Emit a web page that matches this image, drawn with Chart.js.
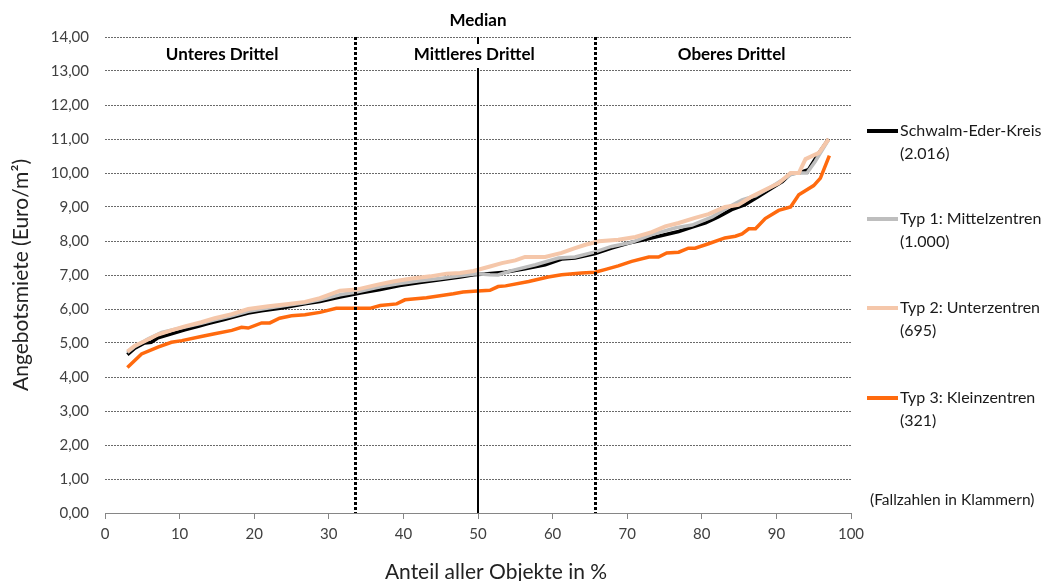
<!DOCTYPE html>
<html><head><meta charset="utf-8">
<script src="https://cdn.jsdelivr.net/npm/chart.js@4/dist/chart.umd.min.js"></script>
<style>html,body{margin:0;padding:0;background:#fff}canvas{display:block}</style>
</head><body>
<canvas id="c" width="1046" height="581"></canvas>
<script>
// ---- data ----
const seriesNames = ['Schwalm-Eder-Kreis', 'Typ 1: Mittelzentren', 'Typ 2: Unterzentren', 'Typ 3: Kleinzentren'];
const seriesCounts = ['(2.016)', '(1.000)', '(695)', '(321)'];

const blackX = [3, 4, 5.3, 6.2, 7.1, 8.9, 10.7, 12.5, 13.8, 16.1, 17.8, 19.2, 21, 23.7, 26.8, 28.8, 31.5, 34.2, 36.9, 39.5, 42.2, 44.9, 47.6, 49.4, 50.9, 53.6, 56.3, 59, 61.2, 63, 65.7, 67.9, 70.2, 72.4, 74.2, 76.9, 78.7, 80.5, 82.2, 84, 85.8, 87.6, 89.4, 90.8, 91.9, 93, 94.3, 95.7, 97];
const blackY = [4.66, 4.85, 5.0, 5.02, 5.15, 5.27, 5.39, 5.49, 5.57, 5.7, 5.8, 5.88, 5.95, 6.03, 6.15, 6.22, 6.35, 6.47, 6.57, 6.69, 6.78, 6.86, 6.94, 7.01, 7.03, 7.08, 7.18, 7.3, 7.47, 7.5, 7.63, 7.79, 7.94, 8.04, 8.14, 8.28, 8.41, 8.53, 8.71, 8.92, 9.07, 9.31, 9.56, 9.75, 9.98, 10.0, 10.1, 10.59, 11.0];

const greyX = [3, 4, 5.8, 7.6, 9, 10.7, 12.9, 14.7, 17, 19.2, 21.9, 24.6, 26.8, 28.8, 31.5, 33.7, 36.9, 39.5, 42.2, 44.9, 47.6, 49.8, 51.6, 52.7, 54.5, 57.7, 60.8, 63, 65.7, 67.9, 70.6, 73.3, 76.4, 78.7, 81.4, 83.6, 85.4, 87.2, 89.4, 91.2, 92.3, 94.1, 95.2, 97];
const greyY = [4.72, 4.9, 5.12, 5.31, 5.38, 5.47, 5.58, 5.68, 5.8, 5.93, 6.03, 6.12, 6.18, 6.27, 6.42, 6.5, 6.65, 6.75, 6.83, 6.9, 6.98, 7.04, 7.01, 7.0, 7.13, 7.3, 7.5, 7.53, 7.68, 7.84, 7.96, 8.19, 8.38, 8.47, 8.71, 9.0, 9.21, 9.33, 9.6, 9.85, 10.0, 10.0, 10.34, 10.98];

const beigeX = [3, 4, 5.3, 7.1, 8.9, 10.7, 12.9, 14.7, 17, 19.2, 21.9, 24.6, 26.8, 28.8, 31.5, 33.7, 36.4, 38.6, 40.9, 43.6, 45.8, 47.6, 49.4, 51.6, 53.2, 55, 56.3, 59, 61.2, 63, 64.4, 66.2, 68.8, 71.1, 73.3, 75.1, 76.9, 79.1, 80.9, 83.1, 84.9, 86.7, 88.5, 90.3, 91.9, 93, 93.9, 95.7, 97];
const beigeY = [4.75, 4.92, 5.05, 5.25, 5.37, 5.49, 5.61, 5.73, 5.85, 6.0, 6.08, 6.15, 6.21, 6.32, 6.54, 6.57, 6.71, 6.81, 6.89, 6.96, 7.04, 7.06, 7.12, 7.25, 7.35, 7.43, 7.53, 7.53, 7.65, 7.79, 7.89, 7.99, 8.04, 8.12, 8.26, 8.43, 8.53, 8.68, 8.79, 9.0, 9.06, 9.31, 9.51, 9.7, 10.0, 10.0, 10.41, 10.59, 11.0];

const orangeX = [3, 4.9, 7.1, 8.9, 10.3, 12.9, 14.7, 17, 18.3, 19.2, 21, 22.1, 23.4, 25, 26.8, 28.8, 31, 35.5, 36.9, 39.1, 40.2, 43.1, 44.9, 46.7, 48, 49.4, 51.6, 52.7, 53.7, 56.8, 59.4, 61.2, 63.9, 65.7, 67, 68.8, 70.6, 72.9, 74.2, 75.3, 76.9, 78.2, 79.1, 80.9, 83.1, 84.5, 85.4, 86.3, 87.2, 88.5, 90.3, 91.9, 93, 95, 95.9, 97.1];
const orangeY = [4.28, 4.68, 4.88, 5.02, 5.07, 5.19, 5.27, 5.37, 5.46, 5.44, 5.59, 5.59, 5.73, 5.8, 5.83, 5.9, 6.02, 6.02, 6.1, 6.15, 6.27, 6.33, 6.39, 6.45, 6.5, 6.52, 6.55, 6.66, 6.68, 6.81, 6.94, 7.01, 7.06, 7.08, 7.16, 7.27, 7.4, 7.53, 7.53, 7.65, 7.67, 7.79, 7.79, 7.92, 8.09, 8.14, 8.21, 8.36, 8.36, 8.66, 8.9, 9.0, 9.36, 9.63, 9.85, 10.51];

const yTickLabels = ['0,00','1,00','2,00','3,00','4,00','5,00','6,00','7,00','8,00','9,00','10,00','11,00','12,00','13,00','14,00'];
const xTickValues = [0,10,20,30,40,50,60,70,80,90,100];
const thirdLines = [33.5, 65.7];
const medianValue = 50;
const sectionLabels = ['Unteres Drittel', 'Mittleres Drittel', 'Oberes Drittel'];
const sectionCenters = [15.7, 49.5, 84];
const xTitle = 'Anteil aller Objekte in %';
const yTitle = 'Angebotsmiete (Euro/m²)';

// ---- build ----
const FONT = 'Lato';
const pts = (xs, ys) => xs.map((x, i) => ({x: x, y: ys[i]}));
const colors = ['#000000', '#BEBEBE', '#F5C7AA', '#FF6A0E'];
const widths = [3.5, 3.5, 4, 3.5];
const seriesData = [pts(blackX, blackY), pts(greyX, greyY), pts(beigeX, beigeY), pts(orangeX, orangeY)];

const datasets = seriesData.map((d, i) => ({
  label: seriesNames[i],
  data: d,
  borderColor: colors[i],
  backgroundColor: colors[i],
  borderWidth: widths[i],
  pointRadius: 0,
  tension: 0,
  fill: false,
  order: 3 - i
}));

const overlay = {
  id: 'overlay',
  afterDatasetsDraw(chart) {
    const ctx = chart.ctx, xs = chart.scales.x;
    const top = chart.chartArea.top, bottom = chart.chartArea.bottom;
    ctx.save();
    ctx.strokeStyle = '#000';
    ctx.lineWidth = 3;
    ctx.setLineDash([3, 2]);
    thirdLines.forEach(v => {
      const px = Math.round(xs.getPixelForValue(v)) + 0.5;
      ctx.beginPath(); ctx.moveTo(px, top); ctx.lineTo(px, bottom); ctx.stroke();
    });
    ctx.setLineDash([]);
    ctx.lineWidth = 2;
    const mx = Math.round(xs.getPixelForValue(medianValue));
    ctx.beginPath(); ctx.moveTo(mx, top); ctx.lineTo(mx, bottom); ctx.stroke();
    ctx.fillStyle = '#fff';
    ctx.fillRect(mx - 6, top + 7, 12, 24);
    ctx.restore();
  },
  afterDraw(chart) {
    const ctx = chart.ctx, xs = chart.scales.x;
    const top = chart.chartArea.top;
    ctx.save();
    ctx.fillStyle = '#000';
    ctx.textBaseline = 'middle';
    ctx.textAlign = 'center';
    ctx.font = 'bold 17px ' + FONT;
    ctx.fillText('Median', xs.getPixelForValue(medianValue), 21);
    sectionLabels.forEach((t, i) => {
      ctx.fillText(t, xs.getPixelForValue(sectionCenters[i]), top + 18);
    });
    // x axis title
    ctx.fillStyle = '#222';
    ctx.font = '21px ' + FONT;
    ctx.fillText(xTitle, 496, 572);
    // legend
    ctx.textAlign = 'left';
    ctx.font = '16px ' + FONT;
    ctx.fillStyle = '#1a1a1a';
    const lx0 = 867, lx1 = 898, tx = 900;
    const rowY = [131, 219, 308, 398];
    rowY.forEach((y, i) => {
      ctx.strokeStyle = colors[i];
      ctx.lineWidth = 4;
      ctx.beginPath(); ctx.moveTo(lx0, y); ctx.lineTo(lx1, y); ctx.stroke();
      ctx.fillText(seriesNames[i], tx, y);
      ctx.fillText(seriesCounts[i], tx, y + 23);
    });
    ctx.font = '15.5px ' + FONT;
    ctx.fillText('(Fallzahlen in Klammern)', 870, 500);
    ctx.restore();
  }
};

new Chart(document.getElementById('c'), {
  type: 'line',
  data: { datasets: datasets },
  plugins: [overlay],
  options: {
    responsive: false,
    animation: false,
    devicePixelRatio: 1,
    layout: { padding: { left: 0, right: 195, top: 37, bottom: 0 } },
    plugins: { legend: { display: false }, tooltip: { enabled: false } },
    scales: {
      x: {
        type: 'linear', min: 0, max: 100,
        afterBuildTicks(s) { s.ticks = xTickValues.map(v => ({value: v})); },
        afterFit(s) { s.height = 68; },
        grid: { display: true, drawOnChartArea: false, drawTicks: true, tickLength: 6, color: '#868686' },
        border: { display: true, color: '#868686', width: 1 },
        ticks: { color: '#404040', font: { family: FONT, size: 15 }, padding: 6, maxRotation: 0 },
        title: { display: false }
      },
      y: {
        type: 'linear', min: 0, max: 14,
        afterBuildTicks(s) { s.ticks = yTickLabels.map((t, i) => ({value: i})); },
        afterFit(s) { s.width = 105; },
        grid: { display: true, drawOnChartArea: true, drawTicks: false, color: '#6a6a6a', lineWidth: 1 },
        border: { display: false, dash: [2, 1] },
        ticks: { color: '#404040', font: { family: FONT, size: 15 }, padding: 16, callback: (v, i) => yTickLabels[i] },
        title: { display: true, text: yTitle, color: '#222', font: { family: FONT, size: 21 }, padding: { top: 9, bottom: 0 } }
      }
    }
  }
});
</script>
</body></html>
